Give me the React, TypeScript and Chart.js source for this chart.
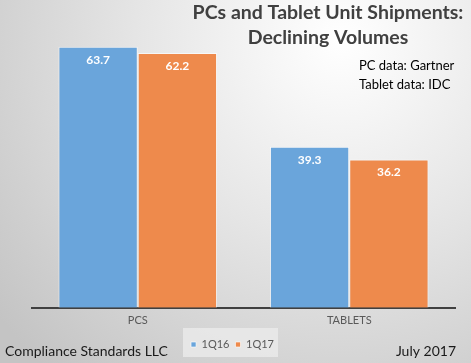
import React, { useEffect, useRef } from "react";
import { Chart, registerables } from "chart.js";

Chart.register(...registerables);

const categories = ["PCS", "TABLETS"];
const seriesNames = ["1Q16", "1Q17"];
const values1Q16 = [63.7, 39.3];
const values1Q17 = [62.2, 36.2];
const titleLines = ["PCs and Tablet Unit Shipments:", "Declining Volumes"];
const noteLines = ["PC data: Gartner", "Tablet data: IDC"];
const footerLeft = "Compliance Standards LLC";
const footerRight = "July 2017";

const FONT = "Lato, 'Open Sans', sans-serif";

const bgPlugin = {
  id: "bg",
  afterLayout(chart: any) {
    const lg = chart.legend;
    if (lg) {
      lg.left -= 11;
      lg.right -= 11;
    }
  },
  beforeDraw(chart: any) {
    const { ctx, width, height } = chart;
    ctx.save();
    const g = ctx.createRadialGradient(340, 40, 0, 340, 40, 440);
    g.addColorStop(0, "#ffffff");
    g.addColorStop(0.45, "#e6e6e6");
    g.addColorStop(1, "#c4c4c4");
    ctx.fillStyle = g;
    ctx.fillRect(0, 0, width, height);
    ctx.fillStyle = "rgba(236,236,236,0.75)";
    ctx.fillRect(183, 328, 95, 29);
    ctx.restore();
  },
};

const textPlugin = {
  id: "texts",
  afterDatasetsDraw(chart: any) {
    const { ctx } = chart;
    ctx.save();
    ctx.fillStyle = "#ffffff";
    ctx.font = `bold 12px ${FONT}`;
    ctx.textAlign = "center";
    ctx.textBaseline = "middle";
    chart.data.datasets.forEach((ds: any, i: number) => {
      const meta = chart.getDatasetMeta(i);
      meta.data.forEach((bar: any, j: number) => {
        ctx.fillText(String(ds.data[j]), bar.x, bar.y + 13);
      });
    });
    ctx.restore();
  },
  afterDraw(chart: any) {
    const { ctx } = chart;
    ctx.save();
    ctx.fillStyle = "#404040";
    ctx.font = `bold 19.5px ${FONT}`;
    ctx.textAlign = "center";
    ctx.textBaseline = "middle";
    ctx.fillText(titleLines[0], 328, 13);
    ctx.fillText(titleLines[1], 328, 38);
    ctx.fillStyle = "#000000";
    ctx.font = `13px ${FONT}`;
    ctx.textAlign = "left";
    ctx.fillText(noteLines[0], 359, 66);
    ctx.fillText(noteLines[1], 359, 85);
    ctx.fillStyle = "#1a1a1a";
    ctx.font = `14px ${FONT}`;
    ctx.fillText(footerLeft, 5, 351);
    ctx.textAlign = "right";
    ctx.fillText(footerRight, 456, 351);
    ctx.restore();
  },
};

export default function App() {
  const ref = useRef<HTMLCanvasElement | null>(null);
  useEffect(() => {
    document.body.style.margin = "0";
    const chart = new Chart(ref.current!, {
      type: "bar",
      data: {
        labels: categories,
        datasets: [
          {
            label: seriesNames[0],
            data: values1Q16,
            backgroundColor: "#6aa5db",
            borderColor: "rgba(255,255,255,0.6)",
            borderWidth: 1,
            categoryPercentage: 0.75,
            barPercentage: 1,
          },
          {
            label: seriesNames[1],
            data: values1Q17,
            backgroundColor: "#ee8a4c",
            borderColor: "rgba(255,255,255,0.6)",
            borderWidth: 1,
            categoryPercentage: 0.75,
            barPercentage: 1,
          },
        ],
      },
      options: {
        animation: false,
        responsive: false,
        maintainAspectRatio: false,
        layout: { padding: { left: 32, right: 16, top: 21, bottom: 3 } },
        plugins: {
          legend: {
            display: true,
            position: "bottom",
            labels: {
              boxWidth: 5,
              boxHeight: 5,
              color: "#595959",
              font: { family: FONT, size: 11 },
              padding: 6,
            },
          },
          tooltip: { enabled: false },
        },
        scales: {
          x: {
            grid: { display: false, drawTicks: false },
            border: { display: true, color: "#404040", width: 2 },
            ticks: {
              color: "#595959",
              font: { family: FONT, size: 11 },
              padding: 6,
            },
          },
          y: {
            display: false,
            min: 0,
            max: 70,
          },
        },
      },
      plugins: [bgPlugin, textPlugin],
    });
    return () => chart.destroy();
  }, []);
  return (
    <div style={{ position: "absolute", left: 0, top: 0, width: 471, height: 363 }}>
      <canvas ref={ref} width={471} height={363} style={{ display: "block" }} />
    </div>
  );
}
